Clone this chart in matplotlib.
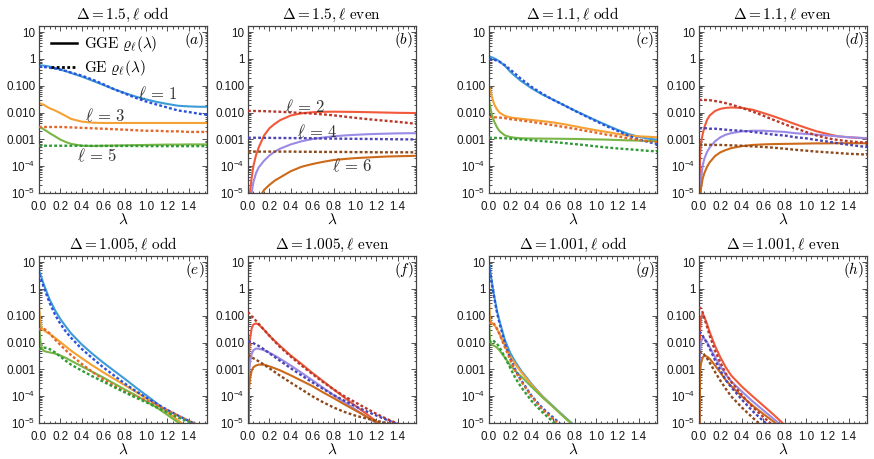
import numpy as np
import matplotlib
matplotlib.use("Agg")
import matplotlib.pyplot as plt
from matplotlib.lines import Line2D
from matplotlib.ticker import FixedLocator, FixedFormatter, LogLocator, NullFormatter, MultipleLocator

plt.rcParams['font.family'] = ['Liberation Sans', 'DejaVu Sans']
plt.rcParams['mathtext.fontset'] = 'custom'
plt.rcParams['mathtext.rm'] = 'Liberation Sans'
plt.rcParams['mathtext.it'] = 'Liberation Sans:italic'
plt.rcParams['mathtext.bf'] = 'Liberation Sans:bold'

# ---------------- data ----------------
LAM = [0, 0.01, 0.02, 0.035, 0.05, 0.075, 0.1, 0.15, 0.2, 0.25, 0.3, 0.4, 0.5,
       0.6, 0.7, 0.8, 0.9, 1.0, 1.1, 1.2, 1.3, 1.4, 1.5, 1.5708]

XTICKS = [0.0, 0.2, 0.4, 0.6, 0.8, 1.0, 1.2, 1.4]
XTICK_LABELS = ['0.0', '0.2', '0.4', '0.6', '0.8', '1.0', '1.2', '1.4']
YTICKS = [1e-5, 1e-4, 1e-3, 1e-2, 1e-1, 1, 10]
YTICK_LABELS = [r'$10^{-5}$', r'$10^{-4}$', '0.001', '0.010', '0.100', '1', '10']

TITLES = [r'$\Delta=1.5,\ell\ \mathrm{odd}$', r'$\Delta=1.5,\ell\ \mathrm{even}$',
          r'$\Delta=1.1,\ell\ \mathrm{odd}$', r'$\Delta=1.1,\ell\ \mathrm{even}$',
          r'$\Delta=1.005,\ell\ \mathrm{odd}$', r'$\Delta=1.005,\ell\ \mathrm{even}$',
          r'$\Delta=1.001,\ell\ \mathrm{odd}$', r'$\Delta=1.001,\ell\ \mathrm{even}$']
PANEL_TAGS = ['(a)', '(b)', '(c)', '(d)', '(e)', '(f)', '(g)', '(h)']

# panel (a): Delta=1.5, odd
a_gge1 = [0.58, 0.58, 0.575, 0.57, 0.56, 0.54, 0.52, 0.46, 0.40, 0.35, 0.30, 0.22, 0.155, 0.108, 0.075, 0.054, 0.040, 0.031, 0.025, 0.021, 0.018, 0.017, 0.0165, 0.0165]
a_ge1 = [0.52, 0.52, 0.515, 0.51, 0.50, 0.49, 0.47, 0.44, 0.40, 0.36, 0.31, 0.24, 0.17, 0.115, 0.075, 0.052, 0.036, 0.026, 0.020, 0.0155, 0.012, 0.0105, 0.009, 0.0083]
a_gge3 = [0.022, 0.0218, 0.0213, 0.0203, 0.019, 0.0165, 0.0145, 0.012, 0.0095, 0.0075, 0.0058, 0.0046, 0.0042, 0.0041, 0.0041, 0.0041, 0.0041, 0.0041, 0.0041, 0.0041, 0.0041, 0.0041, 0.0041, 0.0041]
a_ge3 = [0.0029, 0.0029, 0.0029, 0.0029, 0.0029, 0.0029, 0.0029, 0.0029, 0.0029, 0.00285, 0.0028, 0.0027, 0.0026, 0.0025, 0.0024, 0.0023, 0.0022, 0.0021, 0.0021, 0.0020, 0.0020, 0.0019, 0.0019, 0.0019]
a_gge5 = [0.0029, 0.0028, 0.0027, 0.0025, 0.0023, 0.0020, 0.0017, 0.0013, 0.00098, 0.0008, 0.00068, 0.00058, 0.00057, 0.00058, 0.00059, 0.0006, 0.00061, 0.00062, 0.00063, 0.00064, 0.00064, 0.00065, 0.00065, 0.00065]
a_ge5 = [0.00058, 0.00058, 0.00058, 0.00058, 0.00058, 0.00058, 0.00058, 0.00058, 0.00058, 0.00058, 0.00058, 0.00058, 0.00057, 0.00057, 0.00057, 0.00057, 0.00057, 0.00056, 0.00056, 0.00056, 0.00056, 0.00056, 0.00056, 0.00056]

# panel (b): Delta=1.5, even
b_gge2 = [1e-8, 3e-6, 1.2e-5, 4e-5, 1e-4, 2.6e-4, 5e-4, 0.0014, 0.0026, 0.0038, 0.0052, 0.0078, 0.0094, 0.0103, 0.0107, 0.0108, 0.0107, 0.0106, 0.0104, 0.0102, 0.0100, 0.0098, 0.0097, 0.0096]
b_ge2 = [0.0115, 0.0115, 0.0115, 0.0115, 0.0115, 0.0114, 0.0114, 0.0113, 0.0111, 0.0109, 0.0107, 0.0102, 0.0097, 0.0092, 0.0086, 0.0079, 0.0071, 0.0064, 0.0058, 0.0053, 0.0049, 0.0045, 0.0041, 0.0038]
b_gge4 = [1e-8, 1e-7, 3e-6, 1.1e-5, 2.5e-5, 5.5e-5, 9e-5, 1.6e-4, 2.5e-4, 3.5e-4, 4.5e-4, 6.5e-4, 8.5e-4, 0.00103, 0.00117, 0.0013, 0.0014, 0.00148, 0.00155, 0.0016, 0.00164, 0.00168, 0.0017, 0.0017]
b_ge4 = [0.00115, 0.00115, 0.00115, 0.00115, 0.00115, 0.00115, 0.00115, 0.00114, 0.00114, 0.00113, 0.00113, 0.00112, 0.00111, 0.0011, 0.00108, 0.00107, 0.00106, 0.00105, 0.00104, 0.00103, 0.00102, 0.00101, 0.001, 0.001]
b_gge6 = [1e-9, 1e-8, 5e-8, 2e-7, 5e-7, 2e-6, 6e-6, 1.3e-5, 2e-5, 2.9e-5, 3.8e-5, 6.5e-5, 9.5e-5, 1.2e-4, 1.45e-4, 1.7e-4, 1.85e-4, 2e-4, 2.1e-4, 2.2e-4, 2.3e-4, 2.35e-4, 2.4e-4, 2.45e-4]
b_ge6 = [0.00035, 0.00035, 0.00035, 0.00035, 0.00035, 0.00035, 0.00035, 0.00035, 0.00035, 0.00035, 0.00035, 0.00035, 0.000345, 0.000345, 0.00034, 0.00034, 0.00034, 0.000335, 0.000335, 0.00033, 0.00033, 0.00033, 0.00033, 0.00033]

# panel (c): Delta=1.1, odd
c_gge1 = [1.25, 1.22, 1.18, 1.12, 1.05, 0.93, 0.8, 0.55, 0.33, 0.22, 0.15, 0.08, 0.047, 0.03, 0.019, 0.012, 0.0078, 0.0051, 0.0034, 0.0023, 0.0016, 0.00125, 0.00105, 0.00098]
c_ge1 = [1.0, 0.99, 0.98, 0.96, 0.93, 0.86, 0.78, 0.58, 0.4, 0.27, 0.18, 0.09, 0.05, 0.03, 0.019, 0.0118, 0.0075, 0.0048, 0.0031, 0.0021, 0.0014, 0.001, 0.00078, 0.00068]
c_gge3 = [0.095, 0.075, 0.05, 0.03, 0.02, 0.013, 0.0098, 0.0075, 0.0066, 0.0062, 0.0059, 0.0053, 0.0048, 0.0043, 0.0037, 0.0031, 0.0026, 0.0022, 0.0019, 0.0016, 0.0014, 0.0013, 0.00125, 0.0012]
c_ge3 = [0.0068, 0.0068, 0.0068, 0.0067, 0.0067, 0.0066, 0.0065, 0.0062, 0.0057, 0.0054, 0.0051, 0.0045, 0.0039, 0.0034, 0.0029, 0.0025, 0.0021, 0.0018, 0.0015, 0.0013, 0.0011, 0.00095, 0.00085, 0.0008]
c_gge5 = [0.028, 0.018, 0.011, 0.0065, 0.0045, 0.0028, 0.002, 0.0014, 0.00122, 0.00114, 0.0011, 0.00108, 0.00107, 0.00106, 0.00105, 0.00104, 0.00102, 0.001, 0.00098, 0.00095, 0.00092, 0.0009, 0.00087, 0.00085]
c_ge5 = [0.00115, 0.00115, 0.00115, 0.00114, 0.00114, 0.00113, 0.00112, 0.0011, 0.00106, 0.00103, 0.001, 0.00093, 0.00086, 0.0008, 0.00073, 0.00067, 0.00061, 0.00055, 0.0005, 0.00046, 0.00043, 0.0004, 0.00037, 0.00036]

# panel (d): Delta=1.1, even
d_gge2 = [1e-7, 2.5e-4, 8e-4, 0.0016, 0.0028, 0.0053, 0.0078, 0.0115, 0.0138, 0.015, 0.0155, 0.015, 0.0128, 0.0097, 0.0072, 0.0052, 0.0037, 0.0027, 0.002, 0.0016, 0.0013, 0.0012, 0.00113, 0.0011]
d_ge2 = [0.03, 0.03, 0.03, 0.0298, 0.0296, 0.0293, 0.029, 0.027, 0.025, 0.0225, 0.02, 0.015, 0.011, 0.0077, 0.0053, 0.0037, 0.0026, 0.0019, 0.0014, 0.0011, 0.00095, 0.00085, 0.00078, 0.00075]
d_gge4 = [1e-8, 1e-5, 4e-5, 1.1e-4, 1.9e-4, 3.4e-4, 5e-4, 8.5e-4, 0.0012, 0.0015, 0.0017, 0.002, 0.0021, 0.0021, 0.002, 0.0019, 0.0017, 0.0016, 0.0015, 0.0014, 0.0013, 0.0012, 0.00115, 0.0011]
d_ge4 = [0.0026, 0.0026, 0.0026, 0.0026, 0.0026, 0.0026, 0.0025, 0.0025, 0.0024, 0.0023, 0.0022, 0.0021, 0.0019, 0.0017, 0.0015, 0.0014, 0.0012, 0.0011, 0.00095, 0.00083, 0.00072, 0.00063, 0.00056, 0.00052]
d_gge6 = [1e-9, 5e-6, 1.6e-5, 3.5e-5, 5.5e-5, 9.5e-5, 1.4e-4, 2.4e-4, 3.3e-4, 4e-4, 4.7e-4, 5.6e-4, 6.2e-4, 6.5e-4, 6.7e-4, 6.8e-4, 6.9e-4, 7e-4, 7.1e-4, 7.1e-4, 7.2e-4, 7.2e-4, 7.2e-4, 7.2e-4]
d_ge6 = [0.00063, 0.00063, 0.00063, 0.00063, 0.00063, 0.00063, 0.00063, 0.00062, 0.00062, 0.00061, 0.0006, 0.00058, 0.00055, 0.00052, 0.00049, 0.00045, 0.00041, 0.00038, 0.00035, 0.00033, 0.00031, 0.00029, 0.00028, 0.00027]

# panel (e): Delta=1.005, odd
e_gge1 = [5.0, 3.8, 2.9, 1.9, 1.3, 0.72, 0.4, 0.16, 0.075, 0.04, 0.022, 0.0085, 0.0038, 0.0018, 0.0009, 0.00045, 0.00022, 1.1e-4, 5.5e-5, 2.6e-5, 1.2e-5, 5e-6, 2e-6, 1e-6]
e_ge1 = [3.5, 2.8, 2.2, 1.5, 1.0, 0.55, 0.3, 0.11, 0.05, 0.026, 0.015, 0.0058, 0.0026, 0.0012, 0.0006, 0.0003, 0.00016, 9e-5, 5.2e-5, 3.1e-5, 1.9e-5, 1.2e-5, 8e-6, 6e-6]
e_gge3 = [0.25, 0.07, 0.04, 0.031, 0.028, 0.024, 0.021, 0.015, 0.0105, 0.0072, 0.005, 0.0026, 0.0014, 0.00078, 0.00045, 0.00026, 0.00015, 8.5e-5, 4.8e-5, 2.5e-5, 1.25e-5, 6e-6, 3e-6, 2e-6]
e_ge3 = [0.03, 0.032, 0.033, 0.033, 0.032, 0.027, 0.022, 0.013, 0.0082, 0.0052, 0.0034, 0.0016, 0.0008, 0.00043, 0.00025, 0.00015, 0.0001, 7e-5, 4.6e-5, 3e-5, 1.9e-5, 1.2e-5, 8e-6, 6e-6]
e_gge5 = [0.06, 0.015, 0.0075, 0.0055, 0.0048, 0.0045, 0.0043, 0.0039, 0.0033, 0.0027, 0.0021, 0.0013, 0.0008, 0.0005, 0.0003, 0.00018, 0.00011, 6.5e-5, 3.8e-5, 2e-5, 1.05e-5, 5e-6, 2.5e-6, 1.5e-6]
e_ge5 = [0.0055, 0.0058, 0.006, 0.0063, 0.0065, 0.0062, 0.0057, 0.0043, 0.003, 0.0021, 0.0015, 0.0009, 0.00055, 0.00035, 0.00022, 0.00014, 9e-5, 6e-5, 3.8e-5, 2.5e-5, 1.6e-5, 1.1e-5, 7.5e-6, 5.5e-6]

# panel (f): Delta=1.005, even
f_gge2 = [1e-7, 0.004, 0.015, 0.035, 0.047, 0.052, 0.047, 0.03, 0.018, 0.0115, 0.0075, 0.0033, 0.0016, 0.00075, 0.00037, 0.00018, 9e-5, 4.5e-5, 2.3e-5, 1.15e-5, 6e-6, 3e-6, 1.5e-6, 1e-6]
f_ge2 = [0.14, 0.125, 0.11, 0.095, 0.083, 0.065, 0.05, 0.03, 0.018, 0.011, 0.0068, 0.003, 0.0014, 0.00068, 0.00034, 0.00018, 0.0001, 6e-5, 3.6e-5, 2.2e-5, 1.4e-5, 9.5e-6, 7e-6, 5.5e-6]
f_gge4 = [1e-8, 0.0007, 0.002, 0.0038, 0.0052, 0.006, 0.0059, 0.0052, 0.0042, 0.0033, 0.0025, 0.0014, 0.00075, 0.0004, 0.00021, 0.00011, 6e-5, 3.3e-5, 1.8e-5, 1e-5, 5.5e-6, 3e-6, 1.6e-6, 1e-6]
f_ge4 = [0.011, 0.011, 0.0105, 0.01, 0.0095, 0.0085, 0.0075, 0.0056, 0.004, 0.0029, 0.0021, 0.0011, 0.0006, 0.00033, 0.00019, 0.00011, 6.8e-5, 4.3e-5, 2.8e-5, 1.9e-5, 1.3e-5, 9e-6, 6.5e-6, 5e-6]
f_gge6 = [1e-9, 0.0002, 0.0005, 0.0009, 0.0012, 0.0014, 0.0015, 0.0015, 0.0013, 0.0011, 0.00092, 0.0006, 0.00038, 0.00024, 0.00014, 8.5e-5, 5e-5, 3e-5, 1.8e-5, 1.05e-5, 6e-6, 3.5e-6, 2e-6, 1.3e-6]
f_ge6 = [0.0035, 0.0033, 0.0031, 0.0028, 0.0026, 0.0023, 0.002, 0.0015, 0.0011, 0.0008, 0.00058, 0.00032, 0.00018, 0.0001, 6e-5, 3.8e-5, 2.6e-5, 1.9e-5, 1.5e-5, 1.2e-5, 1e-5, 8.5e-6, 7e-6, 6e-6]

# panel (g): Delta=1.001, odd
g_gge1 = [10.0, 5.0, 2.8, 1.1, 0.5, 0.15, 0.06, 0.012, 0.004, 0.0018, 9e-4, 2.8e-4, 1e-4, 4.2e-5, 1.8e-5, 8e-6, 3.5e-6, 1.5e-6, 7e-7, 3e-7, 1.5e-7, 1e-7, 1e-7, 1e-7]
g_ge1 = [8.0, 4.3, 2.4, 1.0, 0.45, 0.13, 0.05, 0.009, 0.0025, 9e-4, 4e-4, 1e-4, 3.6e-5, 1.6e-5, 7e-6, 3e-6, 1.5e-6, 7e-7, 3e-7, 1.5e-7, 1e-7, 1e-7, 1e-7, 1e-7]
g_gge3 = [0.35, 0.08, 0.055, 0.05, 0.045, 0.032, 0.02, 0.0075, 0.003, 0.0015, 8e-4, 2.6e-4, 9.5e-5, 4e-5, 1.7e-5, 7.5e-6, 3.3e-6, 1.5e-6, 7e-7, 3e-7, 1.5e-7, 1e-7, 1e-7, 1e-7]
g_ge3 = [0.05, 0.055, 0.058, 0.055, 0.048, 0.033, 0.02, 0.0065, 0.0022, 8e-4, 3.6e-4, 9.5e-5, 3.2e-5, 1.4e-5, 6e-6, 2.5e-6, 1.2e-6, 6e-7, 3e-7, 1.5e-7, 1e-7, 1e-7, 1e-7, 1e-7]
g_gge5 = [0.06, 0.012, 0.009, 0.008, 0.0075, 0.0065, 0.005, 0.0027, 0.0014, 8.5e-4, 5.5e-4, 2.2e-4, 9e-5, 4e-5, 1.7e-5, 7.5e-6, 3.3e-6, 1.5e-6, 7e-7, 3e-7, 1.5e-7, 1e-7, 1e-7, 1e-7]
g_ge5 = [0.01, 0.011, 0.012, 0.012, 0.011, 0.009, 0.0065, 0.0028, 0.0011, 4.5e-4, 2.2e-4, 6.5e-5, 2.5e-5, 1.1e-5, 4.5e-6, 2e-6, 1e-6, 5e-7, 2.5e-7, 1.5e-7, 1e-7, 1e-7, 1e-7, 1e-7]

# panel (h): Delta=1.001, even
h_gge2 = [1e-7, 0.03, 0.09, 0.12, 0.09, 0.05, 0.025, 0.0075, 0.0028, 0.0012, 6e-4, 2.3e-4, 1e-4, 4.5e-5, 2e-5, 8.5e-6, 3.5e-6, 1.5e-6, 7e-7, 3e-7, 1.5e-7, 1e-7, 1e-7, 1e-7]
h_ge2 = [0.2, 0.2, 0.18, 0.13, 0.08, 0.04, 0.018, 0.005, 0.0018, 7e-4, 3.5e-4, 1.1e-4, 4e-5, 1.7e-5, 7.5e-6, 3e-6, 1.3e-6, 6e-7, 3e-7, 1.5e-7, 1e-7, 1e-7, 1e-7, 1e-7]
h_gge4 = [1e-8, 0.004, 0.011, 0.015, 0.014, 0.0105, 0.0068, 0.0029, 0.0013, 6.5e-4, 3.6e-4, 1.5e-4, 6.5e-5, 3e-5, 1.4e-5, 6.5e-6, 3e-6, 1.3e-6, 6e-7, 3e-7, 1.5e-7, 1e-7, 1e-7, 1e-7]
h_ge4 = [0.025, 0.024, 0.022, 0.018, 0.014, 0.0095, 0.006, 0.0022, 9e-4, 4e-4, 2.2e-4, 7.5e-5, 2.8e-5, 1.2e-5, 5.5e-6, 2.5e-6, 1.1e-6, 5e-7, 2.5e-7, 1.5e-7, 1e-7, 1e-7, 1e-7, 1e-7]
h_gge6 = [1e-9, 8e-4, 0.0018, 0.0028, 0.0032, 0.003, 0.0025, 0.0014, 7.5e-4, 4e-4, 2.4e-4, 1e-4, 4.5e-5, 2.2e-5, 1.1e-5, 5e-6, 2.3e-6, 1e-6, 5e-7, 2.5e-7, 1.5e-7, 1e-7, 1e-7, 1e-7]
h_ge6 = [0.0045, 0.0045, 0.0044, 0.004, 0.0035, 0.0026, 0.0018, 8e-4, 3.8e-4, 1.9e-4, 1e-4, 3.8e-5, 1.6e-5, 7e-6, 3e-6, 1.3e-6, 6e-7, 3e-7, 1.5e-7, 1e-7, 1e-7, 1e-7, 1e-7, 1e-7]

# colors: (GGE, GE) per ell
ODD_COLORS = [('#3d9cd8', '#2a52dc'), ('#f5a133', '#e2672a'), ('#79b646', '#2f9a36')]
EVEN_COLORS = [('#f2583a', '#b8382a'), ('#9b8ae6', '#4b44b2'), ('#cc6a1a', '#8d491c')]

PANELS = [
    [(a_gge1, a_ge1), (a_gge3, a_ge3), (a_gge5, a_ge5)],
    [(b_gge2, b_ge2), (b_gge4, b_ge4), (b_gge6, b_ge6)],
    [(c_gge1, c_ge1), (c_gge3, c_ge3), (c_gge5, c_ge5)],
    [(d_gge2, d_ge2), (d_gge4, d_ge4), (d_gge6, d_ge6)],
    [(e_gge1, e_ge1), (e_gge3, e_ge3), (e_gge5, e_ge5)],
    [(f_gge2, f_ge2), (f_gge4, f_ge4), (f_gge6, f_ge6)],
    [(g_gge1, g_ge1), (g_gge3, g_ge3), (g_gge5, g_ge5)],
    [(h_gge2, h_ge2), (h_gge4, h_ge4), (h_gge6, h_ge6)],
]

# inline ell labels (panel index, text, lambda, value)
ELL_LABELS = [
    (0, r'$\ell\,=\,1$', 1.11, 0.05), (0, r'$\ell\,=\,3$', 0.62, 0.008), (0, r'$\ell\,=\,5$', 0.54, 0.00026),
    (1, r'$\ell\,=\,2$', 0.53, 0.017), (1, r'$\ell\,=\,4$', 0.65, 0.002), (1, r'$\ell\,=\,6$', 0.97, 0.00011),
]

# ---------------- figure ----------------
fig = plt.figure(figsize=(8.74, 4.59), dpi=100)
W, H = 874.0, 459.0
lefts = [39, 248, 489, 699]
tops = [26, 256]
pw, ph = 168, 167

DASH = (0, (1.2, 0.95))

for i in range(8):
    r, c = divmod(i, 4)
    ax = fig.add_axes([lefts[c] / W, 1 - (tops[r] + ph) / H, pw / W, ph / H])
    ax.set_yscale('log')
    cols = ODD_COLORS if c % 2 == 0 else EVEN_COLORS
    for (gge, ge), (cg, ce) in zip(PANELS[i], cols):
        ax.plot(LAM, gge, color=cg, lw=1.5, solid_capstyle='butt', zorder=2)
    for (gge, ge), (cg, ce) in zip(PANELS[i], cols):
        ax.plot(LAM, ge, color=ce, lw=1.7, linestyle=DASH, dash_capstyle='butt', zorder=3)
    ax.set_xlim(0, np.pi / 2)
    ax.set_ylim(1e-5, 17)
    ax.xaxis.set_major_locator(FixedLocator(XTICKS))
    ax.xaxis.set_major_formatter(FixedFormatter(XTICK_LABELS))
    ax.xaxis.set_minor_locator(MultipleLocator(0.05))
    ax.yaxis.set_major_locator(FixedLocator(YTICKS))
    ax.yaxis.set_major_formatter(FixedFormatter(YTICK_LABELS))
    ax.yaxis.set_minor_locator(LogLocator(base=10, subs=np.arange(2, 10) * 1.0, numticks=20))
    ax.yaxis.set_minor_formatter(NullFormatter())
    ax.tick_params(which='both', direction='in', top=True, right=True, width=0.6, colors='#333333',
                   labelcolor='#1a1a1a', labelsize=8.4)
    ax.tick_params(axis='x', which='major', pad=5.5)
    ax.tick_params(axis='y', which='major', pad=2.5)
    ax.tick_params(which='major', length=3.5)
    ax.tick_params(which='minor', length=1.8)
    for sp in ax.spines.values():
        sp.set_linewidth(0.9)
        sp.set_color('#444444')
    t = ax.set_title(TITLES[i], fontsize=11, pad=5)
    t.set_math_fontfamily('cm')
    xl = ax.set_xlabel(r'$\lambda$', fontsize=11, labelpad=0)
    xl.set_math_fontfamily('cm')
    tag = ax.text(0.985, 0.975, '$' + PANEL_TAGS[i] + '$', transform=ax.transAxes,
                  ha='right', va='top', fontsize=11)
    tag.set_math_fontfamily('cm')
    if i == 0:
        handles = [Line2D([], [], color='black', lw=1.8),
                   Line2D([], [], color='black', lw=2.0, linestyle=(0, (1.0, 0.9)))]
        leg = ax.legend(handles, [r'$\mathrm{GGE}\ \varrho_\ell(\lambda)$', r'$\mathrm{GE}\ \varrho_\ell(\lambda)$'],
                        loc='upper left', frameon=False, fontsize=11, handlelength=1.7,
                        handletextpad=0.5, borderaxespad=0.15, labelspacing=0.25,
                        bbox_to_anchor=(0.02, 1.0))
        for tx in leg.get_texts():
            tx.set_math_fontfamily('cm')
    for (pi, txt, lx, ly) in ELL_LABELS:
        if pi == i:
            tt = ax.text(lx, ly, txt, ha='center', va='center', fontsize=12, color='#333333')
            tt.set_math_fontfamily('cm')

fig.savefig('out.png', dpi=100)
